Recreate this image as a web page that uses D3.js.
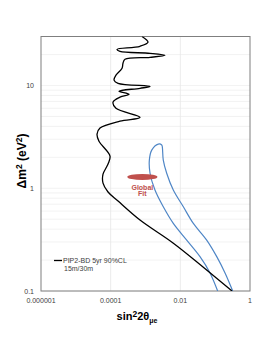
<!DOCTYPE html>
<html>

<head>
  <title>PIP2-BD sensitivity</title>
</head>

<style>
  body,
  html {
    margin: 0;
    padding: 0;
    background: #fff;
  }

  text {
    font-family: "Liberation Sans", Arial, sans-serif;
  }
</style>

<body>

  <svg id="svg" width="266" height="344"></svg>

  <script src="https://d3js.org/d3.v7.min.js"></script>
  <script>

    // PIP2-BD 5yr 90% CL contour (sin^2 2theta, dm^2)
    const pipX = [7.94e-4, 1.18e-3, 6.95e-4, 1.52e-4, 1.85e-4, 1.35e-3, 3.63e-3, 1.35e-3, 2.58e-4, 2.26e-4,
      2.12e-4, 1.42e-4, 1.25e-4, 1.63e-4, 1.35e-3, 6.95e-4, 1.73e-4, 3.37e-4, 1.85e-4, 1.17e-4,
      1.42e-4, 6.95e-4, 1.85e-4, 4.94e-5, 4.06e-5, 4.62e-5, 9.57e-5, 8.4e-5, 6.03e-5, 6.03e-5,
      8.4e-5, 1.63e-4, 6.95e-4, 6.17e-3, 0.0448, 0.305]
    const pipY = [30, 26.4, 24.1, 22.5, 21.5, 20.6, 19.7, 18.8, 18.0, 16.5,
      14.7, 12.6, 11.3, 10.5, 9.8, 9.4, 8.8, 8.2, 7.7, 6.9,
      6.0, 4.9, 4.5, 3.85, 3.36, 2.87, 2.06, 1.72, 1.37, 1.12,
      0.92, 0.75, 0.49, 0.293, 0.171, 0.1]

    // allowed region (blue)
    const blueX = [0.118, 0.0711, 0.0367, 0.01524, 6.28e-3, 3.24e-3, 1.87e-3, 1.35e-3, 1.29e-3, 1.51e-3, 2.33e-3,
      2.92e-3, 3.04e-3, 3.24e-3, 4.06e-3, 6.28e-3, 0.0122, 0.0236, 0.0571, 0.111, 0.192, 0.319]
    const blueY = [0.1, 0.150, 0.216, 0.313, 0.455, 0.660, 0.96, 1.40, 1.88, 2.35, 2.69,
      2.64, 2.53, 1.88, 1.40, 0.96, 0.66, 0.455, 0.313, 0.216, 0.150, 0.1]

    // global fit spot: x extent, y centre
    const fitX = [3.0e-4, 2.2e-3]
    const fitY = 1.29

    const xTicks = [1e-6, 1e-4, 1e-2, 1]
    const xTickLabels = ['0.000001', '0.0001', '0.01', '1']
    const yTicks = [0.1, 1, 10]
    const yTickLabels = ['0.1', '1', '10']

    const svg = d3.select('#svg')

    const xscale = d3.scaleLog()
      .domain([1e-6, 1])
      .range([41, 250])

    const yscale = d3.scaleLog()
      .domain([0.1, 30])
      .range([291, 36.5])

    // grid
    svg.append('g')
      .selectAll('line')
      .data(yscale.ticks())
      .join('line')
      .attr('x1', 41).attr('x2', 250)
      .attr('y1', d => yscale(d)).attr('y2', d => yscale(d))
      .attr('stroke', '#efefef')
      .attr('stroke-width', 0.8)

    svg.append('g')
      .selectAll('line')
      .data(xTicks.slice(1, -1))
      .join('line')
      .attr('x1', d => xscale(d)).attr('x2', d => xscale(d))
      .attr('y1', yscale(30)).attr('y2', 291)
      .attr('stroke', '#e6e6e6')
      .attr('stroke-width', 0.8)

    // plot frame
    svg.append('rect')
      .attr('x', 41).attr('y', yscale(30))
      .attr('width', 209).attr('height', 291 - yscale(30))
      .attr('fill', 'none')
      .attr('stroke', '#7f7f7f')
      .attr('stroke-width', 1)

    // tick labels
    svg.append('g')
      .selectAll('text')
      .data(xTicks)
      .join('text')
      .attr('x', d => xscale(d))
      .attr('y', 302.5)
      .attr('text-anchor', 'middle')
      .attr('font-size', 7)
      .attr('fill', '#404040')
      .text((d, i) => xTickLabels[i])

    svg.append('g')
      .selectAll('text')
      .data(yTicks)
      .join('text')
      .attr('x', 34)
      .attr('y', d => yscale(d) + 2.5)
      .attr('text-anchor', 'end')
      .attr('font-size', 7)
      .attr('fill', '#404040')
      .text((d, i) => yTickLabels[i])

    const linegen = d3.line()
      .x(d => xscale(d[0]))
      .y(d => yscale(d[1]))
      .curve(d3.curveCatmullRom.alpha(0.5))

    const clip = svg.append('clipPath').attr('id', 'plot')
    clip.append('rect')
      .attr('x', 41).attr('y', yscale(30))
      .attr('width', 209).attr('height', 291 - yscale(30))

    const plot = svg.append('g').attr('clip-path', 'url(#plot)')

    plot.append('path')
      .attr('d', linegen(blueX.map((x, i) => [x, blueY[i]])))
      .attr('fill', 'none')
      .attr('stroke', '#4f86c6')
      .attr('stroke-width', 1.2)

    plot.append('path')
      .attr('d', linegen(pipX.map((x, i) => [x, pipY[i]])))
      .attr('fill', 'none')
      .attr('stroke', '#000')
      .attr('stroke-width', 1.3)

    // global fit
    const fx0 = xscale(fitX[0]), fx1 = xscale(fitX[1])
    plot.append('ellipse')
      .attr('cx', (fx0 + fx1) / 2)
      .attr('cy', yscale(fitY))
      .attr('rx', (fx1 - fx0) / 2)
      .attr('ry', 3)
      .attr('fill', '#c0504d')

    const cx = (fx0 + fx1) / 2
    svg.append('text')
      .attr('x', cx).attr('y', yscale(fitY) + 13)
      .attr('text-anchor', 'middle')
      .attr('font-size', 7).attr('font-weight', 'bold')
      .attr('fill', '#c0504d')
      .text('Global')
    svg.append('text')
      .attr('x', cx).attr('y', yscale(fitY) + 19.5)
      .attr('text-anchor', 'middle')
      .attr('font-size', 7).attr('font-weight', 'bold')
      .attr('fill', '#c0504d')
      .text('Fit')

    // legend
    svg.append('line')
      .attr('x1', 54).attr('x2', 62)
      .attr('y1', 260.5).attr('y2', 260.5)
      .attr('stroke', '#000').attr('stroke-width', 1.3)
    svg.append('text')
      .attr('x', 63).attr('y', 263)
      .attr('font-size', 7)
      .attr('fill', '#404040')
      .text('PIP2-BD 5yr 90%CL')
    svg.append('text')
      .attr('x', 64).attr('y', 271)
      .attr('font-size', 7)
      .attr('fill', '#404040')
      .text('15m/30m')

    // axis titles
    const xt = svg.append('text')
      .attr('x', 137).attr('y', 320)
      .attr('text-anchor', 'middle')
      .attr('font-size', 11).attr('font-weight', 'bold')
      .attr('fill', '#000')
    xt.append('tspan').text('sin')
    xt.append('tspan').attr('dy', -3.5).attr('font-size', 8.5).text('2')
    xt.append('tspan').attr('dy', 3.5).text('2θ')
    xt.append('tspan').attr('dy', 2.5).attr('font-size', 7).text('μe')

    const yt = svg.append('text')
      .attr('transform', 'translate(25.5,161) rotate(-90)')
      .attr('text-anchor', 'middle')
      .attr('font-size', 12).attr('font-weight', 'bold')
      .attr('fill', '#000')
    yt.append('tspan').text('Δm')
    yt.append('tspan').attr('dy', -4).attr('font-size', 8.5).text('2')
    yt.append('tspan').attr('dy', 4).text(' (eV')
    yt.append('tspan').attr('dy', -4).attr('font-size', 8.5).text('2')
    yt.append('tspan').attr('dy', 4).text(')')

  </script>

</body>

</html>
